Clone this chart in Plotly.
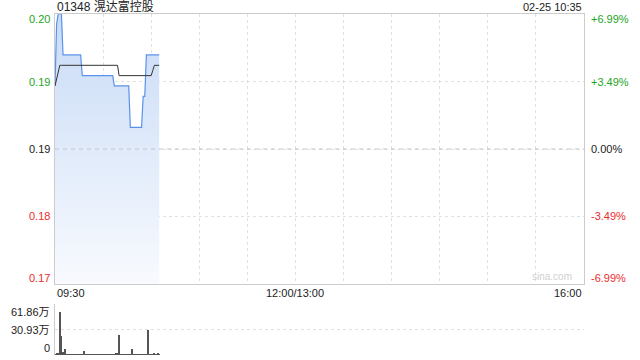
import plotly.graph_objects as go

# ---------------- data ----------------
stock_title = "01348 滉达富控股"
stamp = "02-25 10:35"
prev_close = 0.1869
pct_limit = 0.0699

times = ["09:%02d" % m for m in range(30, 60)] + ["10:%02d" % m for m in range(0, 36)]

price = ([0.193, 0.199, 0.200, 0.200, 0.200]
         + [0.196] * 12
         + [0.194] * 20
         + [0.193] * 10
         + [0.189] * 8
         + [0.192, 0.192]
         + [0.196] * 9)

avg_price = ([0.193, 0.1936, 0.1943]
             + [0.195] * 37
             + [0.194] * 21
             + [0.1945]
             + [0.195] * 4)

volume_wan = [0.5, 1.5, 2.0, 52.5, 23.0, 4.0, 7.0, 1.0, 0.8, 0.6,
              1.2, 0.5, 0.7, 0.9, 0.4, 0.6, 0.8, 1.0, 5.0, 0.7,
              0.6, 0.5, 0.9, 0.6, 0.4, 0.7, 0.8, 0.5, 0.6, 0.9,
              0.5, 0.4, 0.7, 0.6, 0.8, 1.0, 1.2, 0.9, 3.0, 2.0,
              24.0, 1.0, 0.6, 0.8, 0.5, 0.7, 0.9, 1.1, 7.0, 0.8,
              0.6, 0.7, 0.5, 0.9, 0.6, 0.8, 0.7, 0.9, 30.0, 0.6,
              0.5, 0.8, 2.0, 0.6, 1.5, 0.7]

vol_max = 61.86
vol_ticks = [0, 30.93, 61.86]
vol_tick_text = ["0", "30.93万", "61.86万"]

pct_levels = [-6.99, -3.49, 0.0, 3.49, 6.99]
pct_text = ["-6.99%", "-3.49%", "0.00%", "+3.49%", "+6.99%"]
price_text = ["0.17", "0.18", "0.19", "0.19", "0.20"]
level_colors = ["#ee2b2b", "#ee2b2b", "#222222", "#1da51d", "#1da51d"]

x_tick_text = ["09:30", "12:00/13:00", "16:00"]
x_tick_min = [0, 150, 330]

# ---------------- helpers ----------------
def to_min(t):
    h, m = map(int, t.split(":"))
    v = h * 60 + m - (9 * 60 + 30)
    if h >= 13:
        v -= 60
    return v

xm = [to_min(t) for t in times]
lo = prev_close * (1 - pct_limit)
hi = prev_close * (1 + pct_limit)
levels = [prev_close * (1 + p / 100) for p in pct_levels]

FONT = "Arial, 'Liberation Sans', 'Noto Sans CJK SC', sans-serif"

fig = go.Figure()

fig.add_trace(go.Scatter(
    x=xm, y=price, mode="lines", xaxis="x", yaxis="y",
    line=dict(color="#5a92ea", width=1.2, shape="linear"),
    fill="tozeroy",
    fillgradient=dict(type="vertical", start=lo, stop=hi,
                      colorscale=[[0, "#f8fafe"], [1, "#c8dbf7"]]),
    hoverinfo="skip", showlegend=False))

fig.add_trace(go.Scatter(
    x=xm, y=avg_price, mode="lines", xaxis="x", yaxis="y",
    line=dict(color="#333333", width=1),
    hoverinfo="skip", showlegend=False))

fig.add_trace(go.Bar(
    x=xm, y=volume_wan, xaxis="x2", yaxis="y2", width=0.6,
    marker=dict(color="#555555", line=dict(width=0)),
    hoverinfo="skip", showlegend=False))

grid = "#e0e0e0"
fig.update_layout(
    width=640, height=360,
    margin=dict(l=55, r=56, t=14, b=5),
    paper_bgcolor="white", plot_bgcolor="rgba(0,0,0,0)",
    font=dict(family=FONT, size=11, color="#222"),
    bargap=0,
    xaxis=dict(domain=[0, 1], range=[0, 330], anchor="y",
               tickvals=list(range(0, 331, 30)), showticklabels=False,
               showgrid=True, gridcolor=grid, griddash="dot", gridwidth=1,
               showline=True, linecolor="#cccccc", mirror=True, zeroline=False,
               ticks=""),
    yaxis=dict(domain=[71 / 341, 1], range=[lo, hi], anchor="x",
               tickvals=levels, showticklabels=False,
               showgrid=True, gridcolor=grid, griddash="dot",
               showline=True, linecolor="#cccccc", mirror=True, zeroline=False,
               ticks=""),
    xaxis2=dict(domain=[0, 1], range=[0, 330], anchor="y2", matches="x",
                showticklabels=False, showgrid=False, showline=False,
                zeroline=False, ticks=""),
    yaxis2=dict(domain=[0, 51 / 341], range=[0, vol_max], anchor="x2",
                tickvals=vol_ticks[1:], showticklabels=False,
                showgrid=True, gridcolor=grid, griddash="dot",
                showline=True, linecolor="#cccccc", mirror=False,
                zeroline=False, ticks=""),
)

fig.add_shape(type="line", xref="x domain", yref="y", x0=0, x1=1,
              y0=prev_close, y1=prev_close,
              line=dict(color="#c4c4c4", width=1, dash="4px,4px"))

ann = []
shifts = [6, 0, 0, 0, -5]
for lv, pt, tt, col, sh in zip(levels, price_text, pct_text, level_colors, shifts):
    ann.append(dict(xref="paper", x=0, xanchor="right", xshift=-3,
                    yref="y", y=lv, yanchor="middle", yshift=sh,
                    text=pt, showarrow=False, font=dict(color=col, size=11)))
    ann.append(dict(xref="paper", x=1, xanchor="left", xshift=5,
                    yref="y", y=lv, yanchor="middle", yshift=sh,
                    text=tt, showarrow=False, font=dict(color=col, size=11)))

vshifts = [7, 0, -8]
for v, t, sh in zip(vol_ticks, vol_tick_text, vshifts):
    ann.append(dict(xref="paper", x=0, xanchor="right", xshift=-3,
                    yref="y2", y=v, yanchor="middle", yshift=sh,
                    text=t, showarrow=False, font=dict(color="#222", size=11)))

anchors = ["left", "center", "right"]
for xv, t, a in zip(x_tick_min, x_tick_text, anchors):
    ann.append(dict(xref="x", x=xv, xanchor=a, yref="y domain", y=0,
                    yanchor="top", yshift=-1, text=t, showarrow=False,
                    font=dict(color="#222", size=11)))

ann.append(dict(xref="paper", x=0, xanchor="left", yref="paper", y=1,
                yanchor="bottom", yshift=-2, text=stock_title, showarrow=False,
                font=dict(color="#222", size=12)))
ann.append(dict(xref="paper", x=1, xanchor="right", yref="paper", y=1,
                yanchor="bottom", yshift=-1, text=stamp, showarrow=False,
                font=dict(color="#222", size=11)))
ann.append(dict(xref="x", x=330, xanchor="right", xshift=-10,
                yref="y domain", y=0, yanchor="bottom", yshift=0,
                text="sina.com", showarrow=False,
                font=dict(color="#cfcfcf", size=10)))

fig.update_layout(annotations=ann)
fig.write_html("out.html")
